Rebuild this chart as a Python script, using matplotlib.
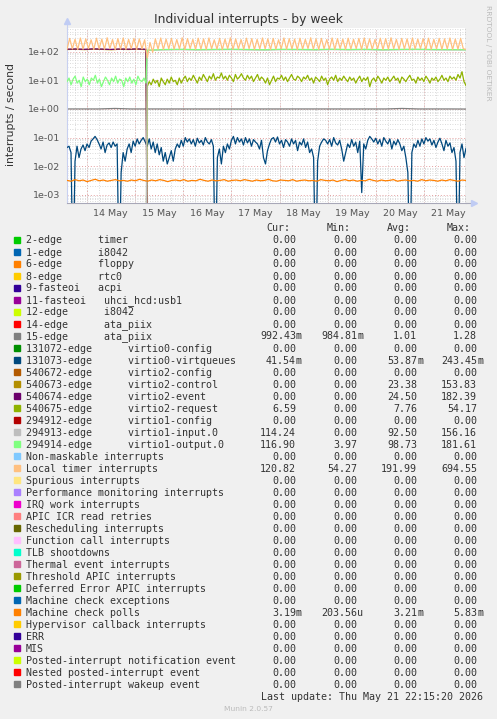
import numpy as np
import matplotlib
matplotlib.use('Agg')
from matplotlib import pyplot as plt
import matplotlib.dates as mdates
from matplotlib.ticker import LogLocator, FuncFormatter, NullFormatter
from datetime import datetime, timedelta

# time window of the graph
end_time = datetime(2026, 5, 21, 20, 45)
total_hours = 198.5
start_time = end_time - timedelta(hours=total_hours)
switch_hour = 39.3

# series (interrupts / second)
virtqueues = [0.045, 0.05, 0.03, 0.0, 0.015, 0.05, 0.02, 0.04,
              0.055, 0.035, 0.06, 0.045, 0.075, 0.09, 0.11, 0.085,
              0.06, 0.04, 0.07, 0.03, 0.055, 0.065, 0.045, 0.07,
              0.05, 0.06, 0.0, 0.006, 0.03, 0.015, 0.04, 0.06,
              0.03, 0.075, 0.05, 0.09, 0.06, 0.08, 0.1, 0.07,
              0.05, 0.09, 0.04, 0.07, 0.03, 0.06, 0.025, 0.045,
              0.015, 0.03, 0.012, 0.02, 0.035, 0.015, 0.04, 0.06,
              0.045, 0.08, 0.05, 0.1, 0.07, 0.09, 0.06, 0.085,
              0.05, 0.095, 0.065, 0.08, 0.055, 0.1, 0.07, 0.06,
              0.085, 0.05, 0.0, 0.02, 0.04, 0.012, 0.05, 0.03,
              0.06, 0.04, 0.08, 0.11, 0.06, 0.1, 0.07, 0.09,
              0.055, 0.1, 0.065, 0.09, 0.05, 0.085, 0.07, 0.06,
              0.04, 0.08, 0.02, 0.012, 0.035, 0.06, 0.09, 0.1,
              0.07, 0.105, 0.06, 0.08, 0.045, 0.085, 0.07, 0.05,
              0.09, 0.06, 0.08, 0.035, 0.07, 0.055, 0.09, 0.045,
              0.07, 0.03, 0.04, 0.02, 0.0, 0.015, 0.05, 0.07,
              0.09, 0.08, 0.06, 0.085, 0.05, 0.1, 0.065, 0.055,
              0.08, 0.04, 0.015, 0.03, 0.06, 0.045, 0.085, 0.05,
              0.07, 0.03, 0.075, 0.0012, 0.06, 0.04, 0.08, 0.11,
              0.09, 0.07, 0.095, 0.06, 0.085, 0.05, 0.1, 0.075,
              0.06, 0.09, 0.04, 0.075, 0.055, 0.085, 0.06, 0.035,
              0.05, 0.02, 0.006, 0.0, 0.03, 0.06, 0.045, 0.08,
              0.05, 0.09, 0.06, 0.1, 0.075, 0.09, 0.055, 0.08,
              0.045, 0.07, 0.095, 0.06, 0.035, 0.08, 0.05, 0.065,
              0.03, 0.045, 0.015, 0.0, 0.03, 0.06, 0.02, 0.042]

mc_polls_milli = [3.2, 3.0, 3.4, 3.1, 3.3, 2.9, 3.2, 3.5, 3.1, 3.3, 3.0, 3.2, 3.4, 3.1, 3.2, 3.0, 3.3, 3.1, 3.5, 3.2,
                  3.0, 3.3, 3.1, 3.4, 3.2, 2.9, 3.2, 3.3, 3.1, 3.4, 3.0, 3.2, 3.1, 3.5, 3.2, 3.0, 3.3, 3.1, 3.2, 3.4,
                  3.0, 3.2, 3.3, 3.1, 3.4, 3.2, 3.0, 3.3, 3.1, 3.2, 3.5, 3.1, 3.0, 3.3, 3.2, 3.1, 3.4, 3.0, 3.2, 3.3,
                  3.1, 3.2, 3.0, 3.4, 3.2, 3.1, 3.3, 2.9, 3.2, 3.4, 3.1, 3.3, 3.0, 3.2, 3.1, 3.5, 3.2, 3.0, 3.3, 3.1,
                  3.2, 3.4, 3.0, 3.2, 3.3, 3.1, 3.2, 3.0, 3.4, 3.1, 3.3, 3.2, 3.0, 3.3, 3.1, 3.4, 3.2, 3.0, 3.3, 3.19]

local_timer = [120, 290, 125, 270, 118, 300, 122, 280, 128, 260, 119, 295, 124, 275, 121, 305, 126, 265, 117, 285,
               123, 300, 120, 270, 127, 290, 118, 280, 125, 260, 60, 210, 95, 280, 122, 300, 119, 275, 126, 290,
               121, 265, 124, 305, 118, 285, 127, 270, 120, 295, 123, 280, 119, 300, 125, 260, 122, 290, 117, 275,
               126, 305, 121, 280, 124, 265, 120, 295, 127, 285, 118, 270, 123, 300, 125, 280, 119, 290, 122, 260,
               126, 300, 120, 285, 124, 275, 117, 295, 123, 270, 128, 305, 121, 280, 119, 290, 125, 265, 122, 300,
               118, 285, 126, 275, 120, 295, 124, 270, 127, 290, 119, 300, 123, 280, 121, 265, 125, 295, 118, 285,
               122, 305, 126, 270, 120, 290, 124, 280, 117, 300, 123, 275, 127, 285, 119, 295, 121, 270, 125, 290,
               120, 280, 124, 300, 118, 275, 122, 290, 126, 120.82]

virtio1_output_pre = [9, 12, 7, 11, 14, 8, 10, 6, 13, 9, 11, 7, 12, 10, 15, 8, 11, 6, 9, 13,
                      10, 7, 12, 9, 14, 8, 11, 10, 6, 12, 9, 13, 8, 11, 7, 14, 10, 9, 12, 8]
virtio1_output_post = [113, 119, 121, 118, 120, 122, 119, 117, 121, 120,
                       118, 122, 119, 121, 117, 120, 122, 119, 118, 116.9]
virtio1_input_post = [110, 115, 117, 114, 116, 118, 115, 113, 117, 116,
                      114, 118, 115, 117, 113, 116, 118, 115, 114, 114.24]

virtio2_request_post = [6, 9, 7, 11, 8, 10, 6, 12, 9, 7, 11, 8, 13, 9, 10, 7, 12, 8, 11, 14,
                        9, 12, 10, 15, 11, 8, 13, 10, 16, 12, 9, 14, 11, 17, 10, 13, 12, 18, 11, 14,
                        10, 15, 12, 9, 16, 11, 13, 17, 12, 10, 15, 11, 14, 9, 12, 16, 10, 13, 11, 8,
                        12, 7, 10, 14, 9, 12, 11, 15, 10, 13, 9, 12, 16, 11, 10, 14, 12, 9, 13, 11,
                        15, 10, 12, 8, 13, 11, 9, 14, 10, 12, 7, 11, 13, 10, 15, 9, 12, 10, 14, 11,
                        9, 13, 10, 12, 8, 11, 14, 9, 12, 10, 13, 6, 10, 12, 9, 14, 11, 8, 12, 10,
                        13, 9, 11, 14, 10, 12, 8, 13, 11, 9, 12, 15, 10, 11, 8, 13, 10, 12, 9, 14,
                        11, 8, 12, 10, 13, 9, 11, 15, 10, 12, 9, 14, 11, 13, 10, 16, 12, 20, 9, 6.59]

virtio2_event_pre = [122, 124, 121, 125, 123, 120, 124, 122, 125, 121]
virtio2_control_pre = [119, 121, 118, 122, 120, 117, 121, 119, 122, 118]

ata_piix = [1.0, 1.0, 1.0, 1.04, 1.0, 1.0, 1.0, 1.0, 1.0, 1.0, 1.0, 1.0, 1.0,
            1.0, 1.0, 1.0, 1.0, 1.0, 1.0, 1.0, 1.0, 1.04, 1.0, 1.0, 1.0, 0.992]

# legend table
legend_names = ["2-edge      timer", "1-edge      i8042", "6-edge      floppy", "8-edge      rtc0",
                "9-fasteoi   acpi", "11-fasteoi   uhci_hcd:usb1", "12-edge      i8042",
                "14-edge      ata_piix", "15-edge      ata_piix",
                "131072-edge      virtio0-config", "131073-edge      virtio0-virtqueues",
                "540672-edge      virtio2-config", "540673-edge      virtio2-control",
                "540674-edge      virtio2-event", "540675-edge      virtio2-request",
                "294912-edge      virtio1-config", "294913-edge      virtio1-input.0",
                "294914-edge      virtio1-output.0", "Non-maskable interrupts", "Local timer interrupts",
                "Spurious interrupts", "Performance monitoring interrupts", "IRQ work interrupts",
                "APIC ICR read retries", "Rescheduling interrupts", "Function call interrupts",
                "TLB shootdowns", "Thermal event interrupts", "Threshold APIC interrupts",
                "Deferred Error APIC interrupts", "Machine check exceptions", "Machine check polls",
                "Hypervisor callback interrupts", "ERR", "MIS", "Posted-interrupt notification event",
                "Nested posted-interrupt event", "Posted-interrupt wakeup event"]

palette = ['#00CC00', '#0066B3', '#FF8000', '#FFCC00', '#330099', '#990099', '#CCFF00', '#FF0000',
           '#808080', '#008F00', '#00487D', '#B35A00', '#B38F00', '#6B006B', '#8FB300', '#B30000',
           '#BEBEBE', '#80FF80', '#80C9FF', '#FFC080', '#FFE680', '#AA80FF', '#EE00CC', '#FF8080',
           '#666600', '#FFBFFF', '#00FFCC', '#CC6699', '#999900']
legend_colors = [palette[i % len(palette)] for i in range(len(legend_names))]

z = "0.00"
cur_vals = [z] * 8 + ["992.43m", z, "41.54m", z, z, z, "6.59", z, "114.24", "116.90", z, "120.82",
                      z, z, z, z, z, z, z, z, z, z, z, "3.19m", z, z, z, z, z, z]
min_vals = [z] * 8 + ["984.81m", z, z, z, z, z, z, z, z, "3.97", z, "54.27",
                      z, z, z, z, z, z, z, z, z, z, z, "203.56u", z, z, z, z, z, z]
avg_vals = [z] * 8 + ["1.01", z, "53.87m", z, "23.38", "24.50", "7.76", z, "92.50", "98.73", z, "191.99",
                      z, z, z, z, z, z, z, z, z, z, z, "3.21m", z, z, z, z, z, z]
max_vals = [z] * 8 + ["1.28", z, "243.45m", z, "153.83", "182.39", "54.17", z, "156.16", "181.61", z, "694.55",
                      z, z, z, z, z, z, z, z, z, z, z, "5.83m", z, z, z, z, z, z]

W, H = 497, 719
FLOOR = 1e-6  # zero rates are drawn down to the bottom edge, as rrdtool does


def span(values, h0, h1):
    return [start_time + timedelta(hours=float(h)) for h in np.linspace(h0, h1, len(values))]


def floor(values):
    return np.maximum(np.asarray(values, dtype=float), FLOOR)


def fx(x):
    return x / W


def fy(y):
    return 1 - y / H


fig = plt.figure(figsize=(W / 100, H / 100), dpi=100, facecolor='#F0F0F0')
ax = fig.add_axes([fx(67), fy(203), fx(466) - fx(67), fy(28) - fy(203)])
ax.set_facecolor('white')
ax.set_yscale('log')
ax.set_xlim(start_time, end_time)
ax.set_ylim(5.2e-4, 670)

# grid: grey every 6 hours / sub-decade, red at midnight / decades
grey = '#CFCFCF'
red = '#E4A0A0'
dots = (0, (1, 2))
ax.xaxis.set_major_locator(mdates.HourLocator(byhour=12))
ax.xaxis.set_major_formatter(mdates.DateFormatter('%d %b'))
ax.xaxis.set_minor_locator(mdates.HourLocator(byhour=[0, 6, 12, 18]))
ax.xaxis.grid(True, which='minor', color=grey, linestyle=dots, linewidth=0.6)
ax.yaxis.set_major_locator(LogLocator(base=10, numticks=12))
ax.yaxis.set_minor_locator(LogLocator(base=10, subs=np.arange(2, 10) * 1.0, numticks=40))
ax.yaxis.set_minor_formatter(NullFormatter())
ax.yaxis.set_major_formatter(FuncFormatter(lambda v, p: f'{v:.0e}'))
ax.yaxis.grid(True, which='minor', color=grey, linestyle=dots, linewidth=0.6)
ax.yaxis.grid(True, which='major', color=red, linestyle=dots, linewidth=0.7)
for d in mdates.DayLocator().tick_values(start_time, end_time):
    ax.axvline(d, color=red, linestyle=dots, linewidth=0.7, zorder=0.5)
ax.set_axisbelow(True)
ax.tick_params(which='both', length=0, labelsize=6.8, colors='#555555')
ax.tick_params(axis='y', pad=5)
ax.tick_params(axis='x', pad=4.5)

for s in ['top', 'right']:
    ax.spines[s].set_visible(False)
ax.spines['left'].set_color('#C8D0F0')
ax.spines['bottom'].set_color('#A8A8B8')
ax.plot([0, 0], [1, 1.04], color='#C8D0F0', lw=0.8, transform=ax.transAxes, clip_on=False)
ax.plot([0], [1.04], marker='^', ms=4, color='#C0CCF4', transform=ax.transAxes, clip_on=False)
ax.plot([1, 1.02], [0, 0], color='#A8A8B8', lw=0.8, transform=ax.transAxes, clip_on=False)
ax.plot([1.02], [0], marker='>', ms=4, color='#C0CCF4', transform=ax.transAxes, clip_on=False)
ax.axvline(end_time, color='#777777', lw=0.9, zorder=1)

lw = 0.9
ax.plot(span(ata_piix, 0, total_hours), floor(ata_piix), color='#808080', lw=lw, zorder=2)
ax.plot(span(virtqueues, 0, total_hours), floor(virtqueues), color='#00487D', lw=lw, zorder=3)

t_pre = span(virtio2_control_pre, 0, switch_hour)
t_after = [start_time + timedelta(hours=switch_hour + 0.6), end_time]
ax.plot(t_pre + t_after, floor(virtio2_control_pre + [0.0, 0.0]), color='#B38F00', lw=lw, zorder=4)
ax.plot(t_pre + t_after, floor(virtio2_event_pre + [0.0, 0.0]), color='#6B006B', lw=lw, zorder=5)

t_post = span(virtio2_request_post, switch_hour + 0.6, total_hours)
t_zero = [start_time, start_time + timedelta(hours=switch_hour)]
ax.plot(t_zero + t_post, floor([0.0, 0.0] + virtio2_request_post), color='#8FB300', lw=lw, zorder=6)

t_in = span(virtio1_input_post, switch_hour + 0.6, total_hours)
ax.plot(t_zero + t_in, floor([0.0, 0.0] + virtio1_input_post), color='#BEBEBE', lw=lw, zorder=7)

t_out = span(virtio1_output_pre, 0, switch_hour) + span(virtio1_output_post, switch_hour + 0.6, total_hours)
ax.plot(t_out, floor(virtio1_output_pre + virtio1_output_post), color='#80FF80', lw=lw, zorder=8)

ax.plot(span(local_timer, 0, total_hours), floor(local_timer), color='#FFC080', lw=lw, zorder=9)
mc_polls = [v / 1000 for v in mc_polls_milli]
ax.plot(span(mc_polls, 0, total_hours), floor(mc_polls), color='#FF8000', lw=lw, zorder=10)

# titles
fig.text(fx(248.5), fy(23.5), 'Individual interrupts - by week', ha='center', va='baseline',
         fontsize=8.9, color='#333333')
fig.text(fx(11), fy(114), 'interrupts / second', rotation=90, ha='center', va='center',
         fontsize=7.8, color='#333333')
fig.text(fx(488), fy(5), 'RRDTOOL / TOBI OETIKER', rotation=270, ha='center', va='top',
         fontsize=5.4, color='#BBBBBB')

# legend table
mono = 'DejaVu Sans Mono'
tc = '#333333'
fs = 7.2
cw = 6.0
col_right = [302, 363, 423, 483]
for x, hdr in zip(col_right, ['Cur:', 'Min:', 'Avg:', 'Max:']):
    fig.text(fx(x - 2 * cw), fy(231), hdr, ha='right', va='baseline', family=mono, fontsize=fs, color=tc)

for i, name in enumerate(legend_names):
    base = 243.5 + 12 * i
    fig.patches.append(plt.Rectangle((fx(14), fy(base - 0.8)), fx(6), fy(0) - fy(6),
                                     transform=fig.transFigure, color=legend_colors[i], figure=fig))
    fig.text(fx(26), fy(base), name, ha='left', va='baseline', family=mono, fontsize=fs, color=tc)
    for x, val in zip(col_right, [cur_vals[i], min_vals[i], avg_vals[i], max_vals[i]]):
        num, suf = (val[:-1], val[-1]) if val[-1].isalpha() else (val, '')
        fig.text(fx(x - cw), fy(base), num, ha='right', va='baseline', family=mono, fontsize=fs, color=tc)
        if suf:
            fig.text(fx(x - cw), fy(base), suf, ha='left', va='baseline', family=mono, fontsize=fs, color=tc)

fig.text(fx(483), fy(699.5), 'Last update: Thu May 21 22:15:20 2026', ha='right', va='baseline',
         family=mono, fontsize=fs, color=tc)
fig.text(fx(248), fy(711), 'Munin 2.0.57', ha='center', va='baseline', fontsize=5.4, color='#BBBBBB')

fig.savefig('out.png', dpi=100, facecolor=fig.get_facecolor())
